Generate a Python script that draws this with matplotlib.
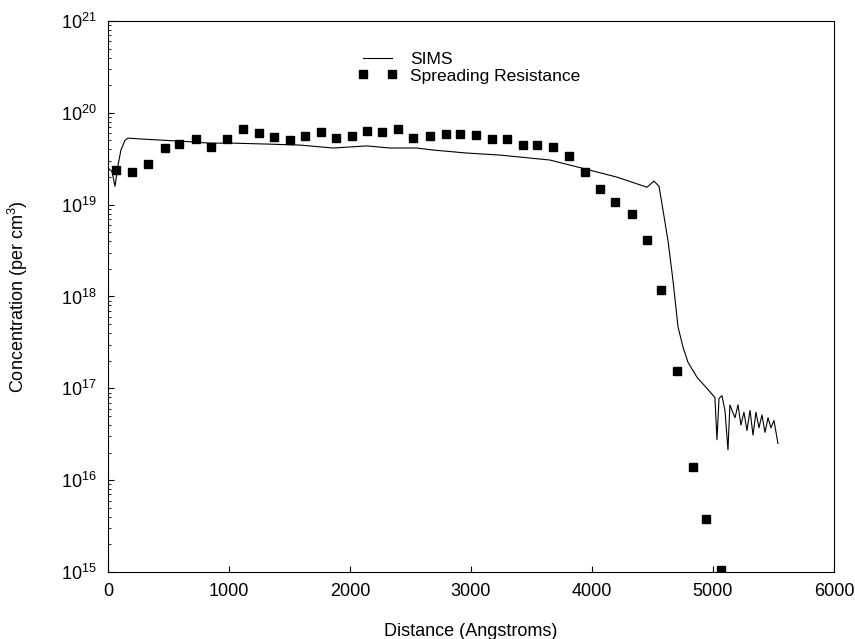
import numpy as np
import matplotlib
matplotlib.use("Agg")
import matplotlib.pyplot as plt

plt.rcParams['font.family'] = ['Liberation Sans', 'DejaVu Sans']
plt.rcParams['mathtext.fontset'] = 'custom'
plt.rcParams['mathtext.rm'] = 'Liberation Sans'

# SIMS profile: distance (Angstroms), log10 concentration
sims_x = [0, 33, 58, 83, 107, 140, 165, 289, 620, 843, 1033, 1314, 1587, 1860,
          2140, 2330, 2554, 2686, 2967, 3240, 3653, 3942, 4206, 4455, 4512,
          4554, 4587, 4628, 4669, 4711, 4752, 4793, 4868, 4950, 5016, 5033,
          5050, 5074, 5099, 5124, 5140, 5157, 5182, 5207, 5231, 5256, 5281,
          5306, 5331, 5355, 5380, 5405, 5430, 5455, 5479, 5504, 5537]
sims_log = [19.40, 19.36, 19.20, 19.43, 19.595, 19.70, 19.725, 19.714, 19.69,
            19.67, 19.67, 19.66, 19.649, 19.617, 19.64, 19.617, 19.617, 19.595,
            19.562, 19.54, 19.486, 19.39, 19.30, 19.19, 19.257, 19.20, 18.94,
            18.61, 18.18, 17.67, 17.45, 17.285, 17.12, 17.00, 16.90, 16.44,
            16.89, 16.92, 16.76, 16.33, 16.82, 16.76, 16.68, 16.82, 16.60,
            16.74, 16.54, 16.76, 16.49, 16.74, 16.57, 16.71, 16.52, 16.68,
            16.57, 16.65, 16.40]

# Spreading resistance points
sr_x = [64, 198, 331, 471, 587, 727, 851, 983, 1116, 1248, 1372, 1504, 1628,
        1760, 1884, 2016, 2140, 2264, 2397, 2521, 2661, 2793, 2909, 3041, 3174,
        3297, 3430, 3545, 3678, 3810, 3942, 4066, 4190, 4330, 4455, 4570, 4702,
        4835, 4942, 5066]
sr_log = [19.377, 19.355, 19.44, 19.617, 19.66, 19.714, 19.627, 19.714, 19.824,
          19.78, 19.736, 19.704, 19.747, 19.791, 19.725, 19.747, 19.802, 19.791,
          19.824, 19.725, 19.747, 19.769, 19.769, 19.758, 19.714, 19.714, 19.649,
          19.649, 19.627, 19.529, 19.355, 19.17, 19.028, 18.898, 18.614, 18.07,
          17.187, 16.142, 15.575, 15.02]

x_ticks = [0, 1000, 2000, 3000, 4000, 5000, 6000]
y_exps = [15, 16, 17, 18, 19, 20, 21]

sims_y = 10 ** np.array(sims_log)
sr_y = 10 ** np.array(sr_log)

fig = plt.figure(figsize=(8.55, 6.39), dpi=100)
ax = fig.add_axes([0.1263, 0.1049, 0.8491, 0.8622])

ax.plot(sims_x, sims_y, color='black', lw=0.8, label='SIMS')
ax.plot(sr_x, sr_y, 's', color='black', ms=6, label='Spreading Resistance')

ax.set_yscale('log')
ax.set_xlim(0, 6000)
ax.set_ylim(1e15, 1e21)
ax.set_xticks(x_ticks)
ax.set_yticks([10.0 ** e for e in y_exps],
              [r'$\mathdefault{10^{%d}}$' % e for e in y_exps])
minor = [m * 10.0 ** e for e in y_exps[:-1] for m in range(2, 10)]
ax.set_yticks(minor, minor=True)
ax.set_yticklabels([], minor=True)
ax.tick_params(axis='both', which='major', direction='in', length=4,
               labelsize=13, pad=8)
ax.tick_params(axis='y', which='minor', direction='in', length=2)

ax.set_xlabel('Distance (Angstroms)', fontsize=13)
ax.set_ylabel(r'Concentration (per cm$^{\mathdefault{3}}$)', fontsize=13)
ax.xaxis.set_label_coords(0.5, -0.092)
ax.yaxis.set_label_coords(-0.107, 0.5)

ax.legend(loc='center left', bbox_to_anchor=(0.344, 0.9156), frameon=False,
          numpoints=2, fontsize=12.5, handlelength=2.3, handletextpad=0.7,
          labelspacing=0.1, borderpad=0, borderaxespad=0)

fig.savefig('out.png', dpi=100)
